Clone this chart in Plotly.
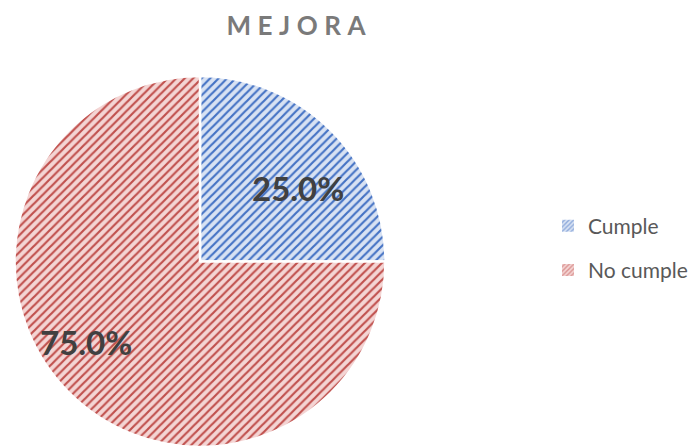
import math
import plotly.graph_objects as go

# data
labels = ["Cumple", "No cumple"]
values = [25.0, 75.0]
fg_colors = ["#4472c4", "#c0504d"]
bg_colors = ["#d8e2f3", "#f4d5d4"]

W, H = 698, 447
cx, cy, r = 200, 262, 186  # pie centre / radius in px

fig = go.Figure()

fig.add_trace(go.Pie(labels=labels,
                     values=values,
                     sort=False,
                     direction="clockwise",
                     rotation=0,
                     textinfo="none",
                     showlegend=False,
                     marker=dict(colors=bg_colors,
                                 line=dict(color="white", width=2.5),
                                 pattern=dict(shape="/", fgcolor=fg_colors,
                                              bgcolor=bg_colors, size=6,
                                              solidity=0.36)),
                     domain=dict(x=[(cx - r) / W, (cx + r) / W],
                                 y=[max(0, (H - cy - r) / H), min(1, (H - cy + r) / H)]),
                     hoverinfo="label+percent"))

# legend entries (bar traces so the items can be spaced out)
for i, lab in enumerate(labels):
    fig.add_trace(go.Bar(x=[None], y=[None], name=lab, legendgroup=lab,
                         marker=dict(color=bg_colors[i],
                                     line=dict(width=0),
                                     pattern=dict(shape="/", fgcolor=fg_colors[i],
                                                  bgcolor=bg_colors[i], size=4,
                                                  solidity=0.45))))

# percentage labels, placed along each slice's mid angle
label_radius = [0.66, 0.75]
label_shift = [8, 10]  # degrees, best-fit style nudge
cum = 0
for i, v in enumerate(values):
    mid = (cum + v / 2) / sum(values) * 360 + label_shift[i]
    cum += v
    px = cx + label_radius[i] * r * math.sin(math.radians(mid))
    py = cy - label_radius[i] * r * math.cos(math.radians(mid))
    fig.add_annotation(x=px / W, y=1 - py / H, xref="paper", yref="paper",
                       xanchor="center", yanchor="middle",
                       text="<b>%.1f%%</b>" % (v / sum(values) * 100),
                       showarrow=False,
                       font=dict(family="Lato", size=33, color="#404040"))

fig.update_xaxes(visible=False, domain=[0.99, 1])
fig.update_yaxes(visible=False)

fig.update_layout(width=W,
                  height=H,
                  margin=dict(l=0, r=0, t=0, b=0),
                  paper_bgcolor="white",
                  plot_bgcolor="white",
                  title=dict(text="<b>" + "\u2009\u2009".join("MEJORA") + "</b>",
                             font=dict(family="Lato", size=26, color="#7a7a7a"),
                             x=296 / W,
                             xanchor="center",
                             y=1 - 26 / H,
                             yanchor="middle"),
                  legend=dict(x=548 / W,
                              y=1 - 248 / H,
                              xanchor="left",
                              yanchor="middle",
                              traceorder="grouped",
                              tracegroupgap=14,
                              font=dict(family="Lato", size=21, color="#595959"),
                              itemwidth=30),
                  font=dict(family="Lato"))

fig.write_html("out.html", config={"displayModeBar": False},
               post_script="document.body.style.margin='0';")
